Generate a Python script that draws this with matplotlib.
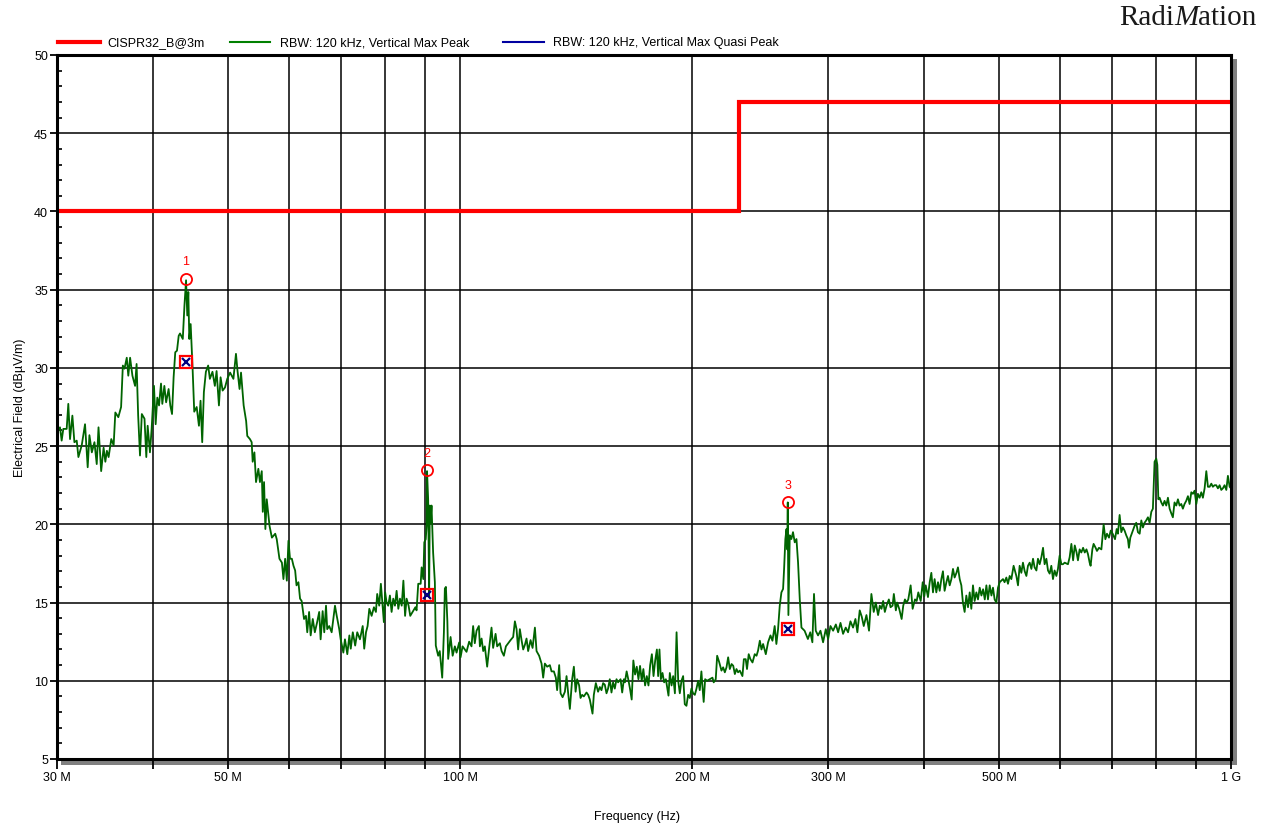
import numpy as np
import matplotlib
matplotlib.use("Agg")
import matplotlib.pyplot as plt
from matplotlib.patches import Rectangle
from matplotlib.lines import Line2D
from matplotlib.ticker import FixedLocator, FixedFormatter, NullLocator, MultipleLocator

plt.rcParams['font.family'] = ['Liberation Sans', 'DejaVu Sans']

# ---------------- data ----------------
# Limit line CISPR32 class B @ 3 m (MHz, dBuV/m)
limit_freq = [30, 230, 230, 1000]
limit_level = [40, 40, 47, 47]

# Peak trace, 30-60 MHz
freq_a = [30.00, 30.27, 30.42, 30.57, 30.88, 31.03, 31.19, 31.41, 31.60, 31.82,
          31.98, 32.30, 32.62, 32.88, 33.05, 33.29, 33.55, 33.78, 33.96, 34.23,
          34.48, 34.66, 34.82, 35.00, 35.28, 35.53, 35.71, 36.03, 36.33, 36.52,
          36.70, 36.95, 37.12, 37.32, 37.58, 37.88, 38.05, 38.23, 38.44, 38.65,
          38.96, 39.17, 39.33, 39.60, 39.80, 40.08, 40.28, 40.48, 40.69, 40.93,
          41.09, 41.34, 41.56, 41.87, 42.08, 42.30, 42.50, 42.71, 42.93, 43.15,
          43.32, 43.68, 43.90, 44.11, 44.27, 44.41, 44.54, 44.72, 44.98, 45.20,
          45.53, 45.84, 46.06, 46.29, 46.52, 46.80, 47.12, 47.36, 47.73, 48.07,
          48.32, 48.66, 48.90, 49.20, 49.55, 49.89, 50.31, 50.81, 51.20, 51.44,
          51.75, 51.98, 52.39, 52.78, 52.96, 53.38, 53.66, 53.82, 54.10, 54.36,
          54.74, 55.00, 55.30, 55.47, 55.68, 55.90, 56.13, 56.60, 57.00, 57.57,
          57.83, 58.30, 58.73, 59.00, 59.30, 59.60, 59.89]
level_a = [26.0, 26.2, 25.35, 26.1, 26.1, 27.7, 25.45, 26.95, 25.25, 25.35,
           24.3, 25.05, 26.4, 23.65, 25.7, 24.6, 25.25, 23.85, 26.2, 23.4,
           24.9, 24.0, 24.7, 24.3, 25.45, 25.05, 27.15, 26.85, 27.5, 30.15,
           29.95, 30.65, 29.5, 30.65, 29.5, 28.85, 30.25, 26.95, 24.4, 27.05,
           26.75, 24.3, 26.3, 24.6, 26.1, 28.85, 26.4, 28.1, 27.6, 29.0,
           27.7, 28.85, 27.8, 28.65, 27.6, 27.05, 29.4, 31.0, 31.1, 32.05,
           32.2, 31.85, 34.0, 35.6, 33.35, 34.85, 31.85, 32.8, 29.95, 27.2,
           27.5, 26.3, 27.9, 25.25, 28.45, 29.75, 30.15, 29.3, 29.75, 28.85,
           29.8, 27.6, 29.4, 28.55, 28.75, 29.3, 29.7, 29.3, 30.9, 29.8,
           28.65, 29.7, 27.6, 26.6, 25.65, 25.45, 25.25, 24.0, 24.6, 22.7,
           23.55, 22.7, 23.4, 20.8, 22.7, 19.7, 21.6, 19.9, 19.15, 19.4,
           19.05, 17.8, 17.55, 16.5, 17.8, 16.4, 18.95]

# Peak trace, 60-100 MHz
freq_b = [60.17, 60.50, 60.80, 61.10, 61.35, 61.70, 62.00, 62.30, 62.50, 62.74,
          63.10, 63.35, 63.70, 64.00, 64.40, 64.80, 65.25, 65.65, 65.93, 66.33,
          66.65, 67.00, 67.24, 67.65, 68.14, 68.82, 69.18, 69.70, 70.00, 70.56,
          70.90, 71.40, 71.84, 72.14, 72.58, 73.10, 73.55, 74.15, 74.76, 75.10,
          75.50, 75.86, 76.25, 76.78, 77.31, 77.77, 78.07, 78.54, 78.93, 79.34,
          79.64, 79.95, 80.29, 80.68, 81.09, 81.50, 81.90, 82.32, 82.73, 83.15,
          83.56, 84.00, 84.42, 84.85, 85.23, 85.74, 86.17, 86.88, 87.50, 87.81,
          88.25, 88.89, 89.15, 89.60, 89.86, 90.25, 90.48, 90.60, 90.90, 91.17,
          91.35, 91.55, 91.82, 92.26, 92.74, 93.00, 93.66, 94.10, 94.80, 95.28,
          95.55, 95.85, 96.27, 96.50, 97.20, 97.80, 98.45, 98.95, 99.73]
level_b = [17.8, 17.8, 17.35, 17.05, 16.1, 16.3, 15.25, 15.1, 14.6, 13.95,
           14.15, 13.1, 14.4, 12.9, 13.95, 13.1, 13.75, 14.4, 12.65, 14.45,
           13.1, 14.8, 13.3, 13.5, 13.1, 14.8, 14.15, 13.3, 12.65, 11.8,
           12.65, 11.7, 12.9, 12.05, 13.1, 12.25, 13.1, 12.65, 13.5, 12.05,
           13.1, 13.5, 14.6, 14.15, 14.7, 14.4, 15.55, 14.8, 16.2, 14.8,
           13.75, 15.65, 15.0, 14.8, 15.45, 14.4, 15.25, 14.8, 15.75, 14.6,
           15.25, 14.8, 16.4, 14.15, 15.25, 14.8, 14.15, 14.45, 14.7, 14.5,
           16.2, 16.2, 17.25, 16.5, 18.85, 19.05, 19.9, 23.4, 21.6, 15.4,
           21.2, 20.1, 21.2, 18.2, 16.3, 12.25, 11.6, 11.9, 10.2, 13.1,
           15.9, 16.0, 13.8, 11.4, 12.8, 11.6, 12.2, 11.8, 12.45]

# Peak trace, 100-200 MHz
freq_c = [100.14, 100.74, 101.43, 101.94, 102.74, 103.47, 103.97, 104.49, 105.04, 105.77,
          106.09, 106.63, 107.15, 107.67, 108.42, 109.07, 109.84, 110.37, 111.18, 111.71,
          112.62, 113.20, 113.97, 114.66, 115.44, 116.27, 117.18, 117.78, 118.37, 118.93,
          119.54, 120.15, 120.74, 121.36, 121.95, 122.54, 123.43, 124.17, 125.04, 125.65,
          126.63, 127.54, 128.17, 128.81, 129.70, 130.75, 131.41, 132.33, 133.10, 133.62,
          134.44, 135.00, 135.82, 136.76, 137.43, 138.10, 138.80, 139.76, 140.47, 141.20,
          141.85, 142.70, 143.30, 143.99, 144.72, 145.88, 146.60, 147.33, 148.52, 149.10,
          150.00, 151.00, 151.80, 152.55, 153.30, 154.07, 154.85, 155.58, 156.38, 157.17,
          157.93, 158.73, 159.55, 160.32, 161.49, 162.28, 163.10, 163.60, 164.45, 165.25,
          166.10, 166.95, 167.78, 168.65, 169.50, 170.35, 171.17, 172.04, 172.88, 173.77,
          174.65, 175.53, 176.42, 177.32, 178.20, 179.10, 180.00, 180.68, 181.39, 182.15,
          183.05, 183.95, 184.90, 185.57, 186.35, 187.09, 188.06, 188.97, 189.95, 190.90,
          191.83, 192.76, 193.73, 194.68, 195.64, 196.62, 197.60, 198.60, 199.58, 200.57]
level_c = [11.5, 12.2, 12.0, 11.85, 12.5, 12.2, 13.5, 12.4, 13.2, 13.5,
           12.2, 12.7, 11.9, 12.2, 10.9, 12.1, 13.4, 12.1, 13.0, 12.2,
           12.4, 11.9, 11.6, 12.2, 12.4, 12.6, 12.8, 13.8, 13.3, 12.0,
           13.3, 12.6, 12.0, 12.3, 12.7, 11.9, 12.6, 12.1, 13.4, 11.9,
           11.6, 11.1, 10.2, 11.1, 10.9, 11.0, 10.6, 10.6, 10.2, 9.4,
           11.0, 9.2, 8.95, 9.3, 10.3, 9.2, 8.2, 10.1, 10.9, 9.3,
           10.1, 9.7, 8.9, 9.1, 9.0, 9.25, 9.1, 8.8, 7.9, 9.1,
           9.85, 9.3, 9.6, 9.4, 9.85, 9.75, 9.2, 9.5, 10.1, 9.25,
           9.9, 9.5, 10.1, 9.9, 10.1, 9.25, 10.1, 9.9, 10.6, 10.1,
           9.5, 8.8, 11.3, 10.4, 10.9, 10.1, 10.95, 10.0, 10.75, 9.7,
           10.3, 9.7, 11.0, 11.7, 10.3, 11.3, 12.0, 10.3, 12.0, 10.1,
           10.5, 9.9, 10.1, 9.6, 9.05, 10.5, 9.7, 10.3, 9.2, 13.1,
           10.0, 9.2, 10.0, 10.3, 8.5, 8.4, 9.1, 8.9, 9.5, 9.2]

# Peak trace, 200-400 MHz
freq_d = [201.6, 202.6, 203.6, 204.6, 205.6, 206.2, 207.0, 207.9, 209.1, 210.8,
          212.5, 213.3, 214.6, 215.5, 216.8, 218.3, 219.4, 220.5, 221.6, 222.7,
          223.8, 225.0, 226.1, 227.2, 228.3, 229.4, 230.6, 232.4, 233.4, 234.7,
          235.6, 236.8, 238.0, 239.5, 241.1, 242.4, 243.5, 244.8, 246.0, 247.2,
          249.2, 250.9, 252.7, 254.2, 255.9, 257.2, 258.5, 259.8, 261.1, 262.4,
          263.2, 264.2, 265.1, 265.7, 266.1, 266.6, 267.7, 269.0, 270.3, 271.7,
          273.1, 274.4, 275.8, 277.2, 279.8, 282.6, 284.6, 286.4, 287.8, 289.3,
          291.3, 293.4, 295.7, 298.1, 300.2, 302.3, 304.7, 307.2, 309.3, 311.5,
          313.9, 316.4, 318.6, 320.9, 323.4, 325.7, 327.6, 329.9, 331.9, 333.9,
          336.6, 339.2, 341.6, 344.0, 346.1, 348.5, 350.3, 352.1, 353.8, 355.6,
          357.4, 359.9, 361.7, 363.9, 365.3, 367.5, 368.9, 371.2, 373.9, 375.7,
          377.6, 379.5, 381.4, 384.1, 386.4, 389.1, 391.1, 393.0, 395.8, 398.2,
          400.1]
level_d = [9.1, 9.5, 10.0, 9.4, 10.6, 9.7, 8.65, 10.1, 10.0, 10.1,
           10.2, 9.9, 10.1, 11.6, 11.2, 10.65, 10.86, 10.54, 10.86, 11.5,
           10.75, 11.07, 10.96, 10.43, 10.75, 10.54, 10.65, 10.3, 11.38, 11.38,
           10.75, 11.7, 11.38, 11.17, 11.7, 11.6, 11.93, 12.56, 12.0, 12.35,
           11.7, 12.46, 12.9, 12.56, 13.5, 12.35, 13.3, 14.8, 15.65, 15.87,
           17.15, 19.06, 19.7, 18.4, 21.4, 14.2, 19.3, 19.06, 19.5, 18.85,
           19.06, 17.57, 15.23, 13.4, 13.2, 12.67, 13.1, 12.46, 15.55, 13.2,
           12.9, 13.2, 12.46, 13.3, 12.67, 13.5, 13.2, 13.6, 13.1, 13.7,
           13.0, 13.4, 13.1, 13.8, 13.4, 13.95, 13.1, 14.5, 14.1, 13.5,
           14.2, 13.2, 15.55, 14.4, 15.0, 14.2, 14.8, 14.6, 15.1, 14.4,
           14.8, 15.2, 14.7, 14.8, 15.55, 14.5, 15.0, 14.6, 13.95, 14.8,
           15.2, 15.0, 15.2, 16.1, 14.6, 15.2, 15.1, 15.65, 15.1, 16.3,
           15.4]

# Peak trace, 400-1000 MHz
freq_e = [401.8, 404.5, 406.6, 408.6, 410.6, 412.6, 414.7, 416.8, 418.9, 421.0,
          423.0, 425.1, 427.4, 429.4, 431.6, 433.8, 435.9, 438.0, 440.4, 442.4,
          444.7, 446.9, 449.0, 451.3, 453.6, 455.9, 458.2, 460.4, 462.7, 465.0,
          467.4, 469.7, 472.1, 474.5, 476.9, 479.3, 481.6, 483.9, 486.4, 488.9,
          491.2, 493.6, 496.2, 498.6, 501.1, 506.1, 508.5, 511.2, 513.7, 516.3,
          518.9, 522.4, 526.7, 529.3, 531.9, 534.6, 537.2, 540.0, 542.7, 545.3,
          548.1, 550.9, 553.6, 556.2, 559.2, 561.8, 564.7, 567.6, 570.4, 573.1,
          576.1, 578.9, 581.8, 584.7, 587.6, 590.4, 593.6, 596.4, 599.4, 602.5,
          605.3, 608.5, 614.5, 617.6, 620.8, 624.0, 627.1, 630.5, 633.1, 636.3,
          639.5, 642.9, 646.1, 649.4, 652.3, 655.6, 657.5, 660.9, 663.4, 667.4,
          670.1, 674.1, 679.0, 683.6, 687.1, 690.4, 694.6, 698.2, 702.3, 707.2,
          710.7, 713.4, 717.0, 720.6, 724.1, 727.7, 731.3, 735.0, 737.2, 740.3,
          744.7, 749.7, 753.5, 757.3, 761.2, 765.0, 768.7, 772.4, 776.3, 780.3,
          784.2, 788.2, 791.9, 795.9, 799.9, 802.5, 804.9, 808.0, 812.1, 816.0,
          820.0, 824.2, 828.3, 832.5, 836.7, 840.6, 844.8, 849.2, 853.4, 857.7,
          862.0, 866.1, 870.4, 874.8, 879.3, 883.7, 888.2, 892.5, 896.9, 901.6,
          905.9, 910.5, 915.1, 919.5, 924.2, 928.9, 933.4, 938.1, 942.9, 947.3,
          952.0, 956.9, 961.7, 966.5, 971.4, 976.0, 980.9, 986.1, 990.8, 995.9,
          1000.0]
level_e = [16.1, 15.35, 16.3, 16.9, 15.65, 16.5, 15.65, 16.3, 15.75, 16.5,
           17.0, 15.75, 16.3, 16.7, 16.1, 16.5, 17.15, 16.6, 16.9, 17.25,
           16.5, 16.1, 15.0, 14.4, 15.45, 14.7, 15.65, 14.6, 16.1, 15.1,
           15.65, 15.2, 15.95, 15.45, 15.85, 15.2, 16.1, 15.2, 16.1, 15.45,
           15.95, 15.2, 15.0, 15.95, 16.3, 16.5, 16.3, 16.6, 16.2, 16.7,
           16.5, 17.35, 16.7, 16.1, 17.35, 16.9, 17.55, 17.0, 16.7, 17.35,
           17.55, 17.15, 17.8, 17.25, 17.05, 17.8, 17.45, 17.9, 18.5, 17.45,
           17.8, 17.05, 16.85, 17.35, 16.5, 17.05, 16.7, 17.15, 18.0, 17.45,
           17.45, 17.55, 17.45, 17.9, 18.75, 17.7, 18.65, 18.2, 17.7, 18.4,
           18.2, 18.5, 18.2, 18.4, 18.1, 17.55, 17.35, 18.4, 18.75, 18.5,
           18.3, 18.5, 18.4, 20.0, 19.05, 19.4, 19.15, 19.6, 19.4, 19.05,
           19.7, 19.4, 20.6, 19.5, 19.8, 19.6, 19.3, 19.05, 18.5, 19.15,
           19.5, 19.9, 20.1, 19.5, 19.4, 20.25, 19.8, 20.1, 20.25, 20.45,
           20.1, 20.8, 21.0, 24.0, 24.2, 23.8, 21.6, 21.7, 21.4, 21.2,
           21.5, 21.2, 21.7, 21.0, 20.7, 20.45, 21.4, 21.2, 21.6, 21.2,
           21.3, 21.0, 21.3, 21.5, 21.8, 21.3, 22.05, 21.95, 22.15, 21.3,
           21.95, 21.7, 22.05, 21.7, 22.3, 23.4, 22.4, 22.4, 22.6, 22.4,
           22.5, 22.5, 22.3, 22.5, 22.2, 22.3, 22.5, 22.2, 23.1, 22.4,
           22.3]

# Markers (peak and quasi-peak results)
marker_ids = ['1', '2', '3']
marker_freq = [44.1, 90.56, 266.1]
marker_peak = [35.7, 23.45, 21.4]
marker_qp = [30.35, 15.5, 13.3]

# Axis ticks
xtick_vals = [30, 40, 50, 60, 70, 80, 90, 100, 200, 300, 400, 500, 600, 700, 800, 900, 1000]
xtick_labels = ['30 M', '', '50 M', '', '', '', '', '100 M', '200 M', '300 M', '',
                '500 M', '', '', '', '', '1 G']
ytick_vals = [5, 10, 15, 20, 25, 30, 35, 40, 45, 50]

legend_labels = ['CISPR32_B@3m', 'RBW: 120 kHz, Vertical Max Peak',
                 'RBW: 120 kHz, Vertical Max Quasi Peak']

# ---------------- figure ----------------
W, H = 1273, 828
fig = plt.figure(figsize=(W / 100, H / 100), dpi=100)
fig.patch.set_facecolor('white')

L, R, T, B = 57, 1231, 56, 760
ax = fig.add_axes([L / W, 1 - B / H, (R - L) / W, (B - T) / H])

# drop shadow of the plot frame
fig.add_artist(Rectangle(((R + 1) / W, 1 - 766 / H), 5 / W, (766 - 60) / H,
                         transform=fig.transFigure, facecolor='#808080',
                         edgecolor='none', zorder=-1))
fig.add_artist(Rectangle((61 / W, 1 - 766 / H), (R + 6 - 61) / W, 6 / H,
                         transform=fig.transFigure, facecolor='#808080',
                         edgecolor='none', zorder=-1))

trace_freq = np.concatenate([freq_a, freq_b, freq_c, freq_d, freq_e])
trace_level = np.concatenate([level_a, level_b, level_c, level_d, level_e])

ax.set_xscale('log')
ax.set_xlim(30, 1000)
ax.set_ylim(5, 50)

ax.plot(trace_freq, trace_level, color='#006400', lw=1.3, zorder=3)
ax.plot(limit_freq, limit_level, color='#ff0000', lw=3, zorder=4,
        solid_joinstyle='miter')

# markers
ax.plot(marker_freq, marker_peak, linestyle='none', marker='o', ms=8,
        mfc='none', mec='#ff0000', mew=1.3, zorder=6)
ax.plot(marker_freq, marker_qp, linestyle='none', marker='s', ms=8.5,
        mfc='none', mec='#ff0000', mew=1.6, zorder=6)
ax.plot(marker_freq, marker_qp, linestyle='none', marker='x', ms=5.5,
        mec='#000080', mew=1.6, zorder=7)
for mid, f, p in zip(marker_ids, marker_freq, marker_peak):
    ax.annotate(mid, (f, p), xytext=(0, 12.5), textcoords='offset points',
                ha='center', va='center', color='#ff0000', fontsize=9, zorder=7)

# ticks and grid
ax.xaxis.set_major_locator(FixedLocator(xtick_vals))
ax.xaxis.set_major_formatter(FixedFormatter(xtick_labels))
ax.xaxis.set_minor_locator(NullLocator())
ax.yaxis.set_major_locator(FixedLocator(ytick_vals))
ax.yaxis.set_minor_locator(MultipleLocator(1))

ax.tick_params(axis='x', which='major', direction='out', length=7.5, width=1.3,
               labelsize=9, pad=1.5, color='black')
ax.tick_params(axis='y', which='major', direction='out', length=5, width=1.3,
               labelsize=9, pad=1.5, color='black')
ax.tick_params(axis='y', which='minor', direction='in', length=3.6, width=1.2,
               color='black')

ax.grid(True, which='major', color='black', lw=1.1, zorder=1)
ax.set_axisbelow(True)
for s in ax.spines.values():
    s.set_linewidth(2.2)
    s.set_color('black')
    s.set_zorder(5)

# axis titles
fig.text(637.5 / W, 1 - 817 / H, 'Frequency (Hz)', ha='center', va='center', fontsize=9)
fig.text(20 / W, 1 - 408 / H, 'Electrical Field (dB\u00b5V/m)', ha='center',
         va='center', rotation=90, fontsize=9)

# legend
leg_y = 1 - 43 / H
legend_items = [((57.5, 99.5), '#ff0000', 3.0, 107),
                ((230, 270), '#008000', 1.5, 280),
                ((503, 544), '#0000a0', 1.5, 553)]
for (x0, x1), col, lw, tx in legend_items:
    fig.add_artist(Line2D([x0 / W, x1 / W], [leg_y, leg_y], color=col, lw=lw,
                          transform=fig.transFigure))
for (_, _, _, tx), lab in zip(legend_items, legend_labels):
    fig.text(tx / W, leg_y, lab, ha='left', va='center', fontsize=9)

# RadiMation logo
renderer = fig.canvas.get_renderer()
base_y = 1 - 25 / H
xpos = 1119 / W
for part, sty in [('Radi', 'normal'), ('M', 'italic'), ('ation', 'normal')]:
    t = fig.text(xpos, base_y, part, ha='left', va='baseline', fontsize=21,
                 family=['Liberation Serif', 'DejaVu Serif'], style=sty,
                 color='#1a1a1a')
    bb = t.get_window_extent(renderer)
    xpos = bb.x1 / fig.bbox.width

fig.savefig('out.png', dpi=100)
